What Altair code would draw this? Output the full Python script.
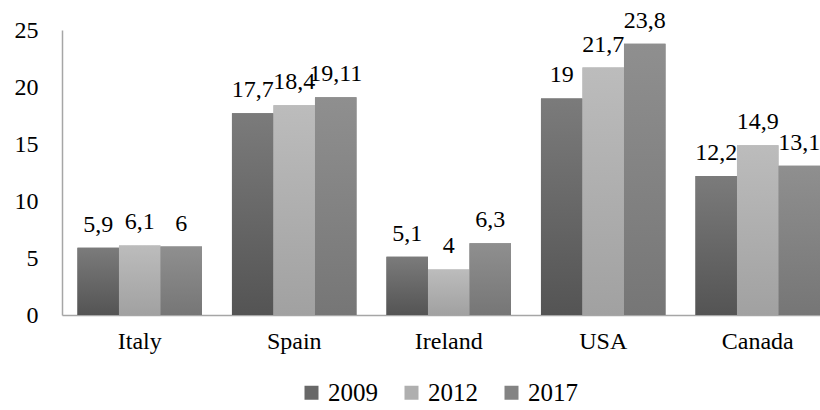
import altair as alt
import pandas as pd

countries = ["Italy", "Spain", "Ireland", "USA", "Canada"]
years = ["2009", "2012", "2017"]
v2009 = [5.9, 17.7, 5.1, 19, 12.2]
v2012 = [6.1, 18.4, 4, 21.7, 14.9]
v2017 = [6, 19.11, 6.3, 23.8, 13.1]

legend_colors = ["#686868", "#afafaf", "#838383"]
grad_top = ["#7b7b7b", "#bcbcbc", "#8f8f8f"]
grad_bottom = ["#545454", "#a1a1a1", "#767676"]

rows = []
for i, c in enumerate(countries):
    for y, vals in zip(years, [v2009, v2012, v2017]):
        rows.append({"country": c, "year": y, "value": vals[i],
                     "label": f"{vals[i]:g}".replace(".", ",")})
df = pd.DataFrame(rows)

FONT = "'Times New Roman', 'Liberation Serif', Times, serif"

x = alt.X("country:N", sort=countries,
          scale=alt.Scale(paddingInner=0.194, paddingOuter=0.05, align=1),
          axis=alt.Axis(title=None, labelAngle=0, labelFont=FONT, labelFontSize=24,
                        labelColor="black", labelPadding=14, ticks=False,
                        domainColor="#a6a6a6", domainWidth=1.5))
xo = alt.XOffset("year:N", sort=years,
                 scale=alt.Scale(domain=years, paddingInner=0, paddingOuter=0))
y = alt.Y("value:Q", scale=alt.Scale(domain=[0, 25], nice=False),
          axis=alt.Axis(title=None, values=[0, 5, 10, 15, 20, 25], grid=False, ticks=False,
                        labelFont=FONT, labelFontSize=24, labelColor="black",
                        labelPadding=24, domainColor="#a6a6a6", domainWidth=1.5))

base = alt.Chart(df).mark_bar().encode(
    x=x, xOffset=xo, y=y,
    color=alt.Color("year:N", scale=alt.Scale(domain=years, range=legend_colors),
                    legend=alt.Legend(title=None, orient="none", legendX=237, legendY=350,
                                      direction="horizontal", symbolType="square",
                                      symbolSize=196, symbolStrokeWidth=0,
                                      labelFontSize=25, labelFont=FONT, labelColor="black",
                                      columnPadding=21, labelOffset=4)),
)

layers = [base]
for yr, top, bot in zip(years, grad_top, grad_bottom):
    g = alt.Gradient(gradient="linear",
                     stops=[alt.GradientStop(color=top, offset=0),
                            alt.GradientStop(color=bot, offset=1)],
                     x1=0, x2=0, y1=0, y2=1)
    layers.append(
        alt.Chart(df).transform_filter(alt.datum.year == yr)
        .mark_bar(color=g).encode(x=x, xOffset=xo, y=y)
    )

labels = alt.Chart(df).mark_text(baseline="alphabetic", dy=-16, fontSize=24, font=FONT,
                                 color="black").encode(x=x, xOffset=xo, y=y, text="label:N")
layers.append(labels)

chart = alt.layer(*layers).properties(
    width=758, height=285,
    autosize=alt.AutoSizeParams(type="none"),
    padding={"left": 62, "top": 30, "right": 0, "bottom": 95},
    background="white",
).configure_view(stroke=None)

chart.save("out.html", embed_options={"renderer": "svg", "actions": False})
